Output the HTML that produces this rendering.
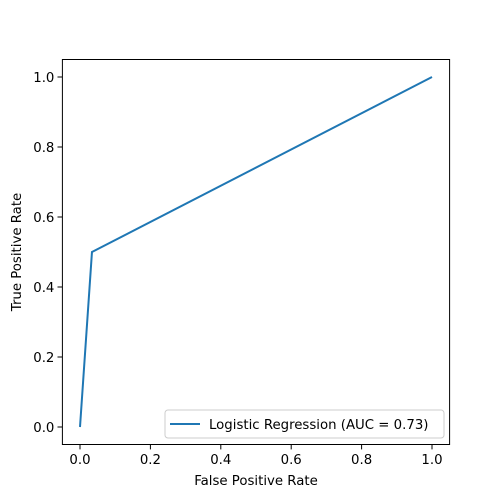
<!DOCTYPE html>
<html><head><meta charset="utf-8"><style>body{margin:0;background:#fff}svg{display:block;font-family:"DejaVu Sans","Liberation Sans",sans-serif}</style></head>
<body>
<svg width="500" height="500" id="chart"></svg>
<script>
const fprValues=[0,0.034,1];
const tprValues=[0,0.5,1];
const xTickLabels=["0.0","0.2","0.4","0.6","0.8","1.0"];
const yTickLabels=["0.0","0.2","0.4","0.6","0.8","1.0"];
const seriesLabel="Logistic Regression (AUC = 0.73)";
const NS="http://www.w3.org/2000/svg";
const svg=document.getElementById('chart');
const L=62.4,R=449.6,T=59.5,B=444.5;
const FS=13.3;
const xs=v=>L+(v+0.05)/1.1*(R-L);
const ys=v=>B-(v+0.05)/1.1*(B-T);
function mk(t,a,txt){const e=document.createElementNS(NS,t);for(const k in a)e.setAttribute(k,a[k]);if(txt!==undefined)e.textContent=txt;svg.appendChild(e);return e;}
let e=mk('rect',{x:L,y:T,width:R-L,height:B-T,fill:'none',stroke:'#000','stroke-width':1});


xTickLabels.forEach(s=>{const v=parseFloat(s);const x=xs(v);
let t=mk('line',{x1:x,x2:x,y1:B,y2:B+4.9,stroke:'#000'});


let l=mk('text',{x:x,y:B+19.5,'font-size':FS,'text-anchor':'middle'},s);

});
yTickLabels.forEach(s=>{const v=parseFloat(s);const y=ys(v);
let t=mk('line',{x1:L-4.9,x2:L,y1:y,y2:y,stroke:'#000'});


let l=mk('text',{x:L-8,y:y+5,'font-size':FS,'text-anchor':'end'},s);

});
let xt=mk('text',{x:(L+R)/2,y:485,'font-size':FS,'text-anchor':'middle'},'False Positive Rate');


let yt=mk('text',{x:0,y:0,'font-size':FS,'text-anchor':'middle',transform:`translate(21,${(T+B)/2}) rotate(-90)`},'True Positive Rate');


let pts=fprValues.map((v,i)=>xs(v)+','+ys(tprValues[i])).join(' ');
let ln=mk('polyline',{points:pts,fill:'none',stroke:'#1f77b4','stroke-width':2});


let lb=mk('rect',{x:165,y:410,width:279,height:28,rx:3,fill:'#fff',stroke:'#ccc'});


let ll=mk('line',{x1:170,x2:200,y1:424,y2:424,stroke:'#1f77b4','stroke-width':2});


let lt=mk('text',{x:209,y:429,'font-size':FS},seriesLabel);


</script>
</body></html>
